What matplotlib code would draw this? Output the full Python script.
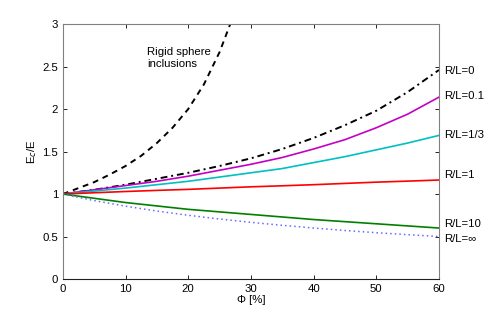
import matplotlib
matplotlib.use("Agg")
from matplotlib import pyplot as plt

plt.rcParams['font.family'] = ['Liberation Sans', 'DejaVu Sans']

# valores (de 5 em 5 %)
phi = [0, 5, 10, 15, 20, 25, 30, 35, 40, 45, 50, 55, 60]
rl_0 = [1.0, 1.05, 1.11, 1.18, 1.25, 1.33, 1.42, 1.53, 1.66, 1.81, 1.98, 2.20, 2.46]
rl_01 = [1.0, 1.05, 1.10, 1.15, 1.21, 1.28, 1.35, 1.43, 1.53, 1.64, 1.78, 1.94, 2.14]
rl_13 = [1.0, 1.035, 1.07, 1.11, 1.15, 1.20, 1.25, 1.30, 1.37, 1.44, 1.52, 1.60, 1.69]
rl_1 = [1.0, 1.015, 1.03, 1.043, 1.055, 1.07, 1.085, 1.097, 1.11, 1.125, 1.14, 1.152, 1.165]
rl_10 = [1.0, 0.95, 0.90, 0.86, 0.82, 0.79, 0.76, 0.73, 0.70, 0.675, 0.65, 0.625, 0.60]
rl_inf = [1.0, 0.923, 0.857, 0.80, 0.75, 0.706, 0.667, 0.632, 0.60, 0.571, 0.545, 0.522, 0.50]

phi_rigid = [0, 2.5, 5, 7.5, 10, 12.5, 15, 17.5, 20, 22.5, 25, 26.7]
rigido = [1.0, 1.07, 1.14, 1.23, 1.33, 1.45, 1.6, 1.78, 2.0, 2.29, 2.67, 3.0]

rotulos = ["R/L=0", "R/L=0.1", "R/L=1/3", "R/L=1", "R/L=10", "R/L=\u221e"]
rotulo_y = [2.45, 2.15, 1.69, 1.22, 0.65, 0.47]

fig = plt.figure(figsize=(4.91, 3.30), dpi=100)
ax = fig.add_axes([0.128, 0.1545, 0.766, 0.7725])

ax.plot(phi_rigid, rigido, color='black', linestyle=(0, (3, 2.5)), linewidth=1.4)
ax.plot(phi, rl_0, color='black', linestyle=(0, (3.5, 2, 1, 2)), linewidth=1.4)
ax.plot(phi, rl_01, color='#c400c4', linewidth=1.2)
ax.plot(phi, rl_13, color='#00c0c0', linewidth=1.2)
ax.plot(phi, rl_1, color='red', linewidth=1.2)
ax.plot(phi, rl_10, color='green', linewidth=1.2)
ax.plot(phi, rl_inf, color='#6a6aff', linestyle=(0, (1, 2)), linewidth=1.1)

for rotulo, y in zip(rotulos, rotulo_y):
  ax.text(60.8, y, rotulo, fontsize=8.2, va='center', ha='left', clip_on=False)

ax.text(13.5, 2.6, "Rigid sphere\ninclusions", fontsize=8.2, va='center', ha='left',
        linespacing=1.35)

ax.set_xlim(0, 60)
ax.set_ylim(0, 3)
ax.set_xticks([0, 10, 20, 30, 40, 50, 60])
ax.set_yticks([0, 0.5, 1, 1.5, 2, 2.5, 3])
ax.set_yticklabels(["0", "0.5", "1", "1.5", "2", "2.5", "3"])
ax.tick_params(direction='in', top=True, right=True, labelsize=8.2, length=3, width=0.6)
for lado in ['left', 'right', 'top']:
  ax.spines[lado].set_color('#808080')
  ax.spines[lado].set_linewidth(0.8)
ax.spines['bottom'].set_color('#202020')
ax.spines['bottom'].set_linewidth(0.8)

ax.set_xlabel("\u03a6 [%]", fontsize=8.2, labelpad=1)
ax.set_ylabel("E$_c$/E", fontsize=8.2, labelpad=2)

fig.savefig("out.png", dpi=100)
